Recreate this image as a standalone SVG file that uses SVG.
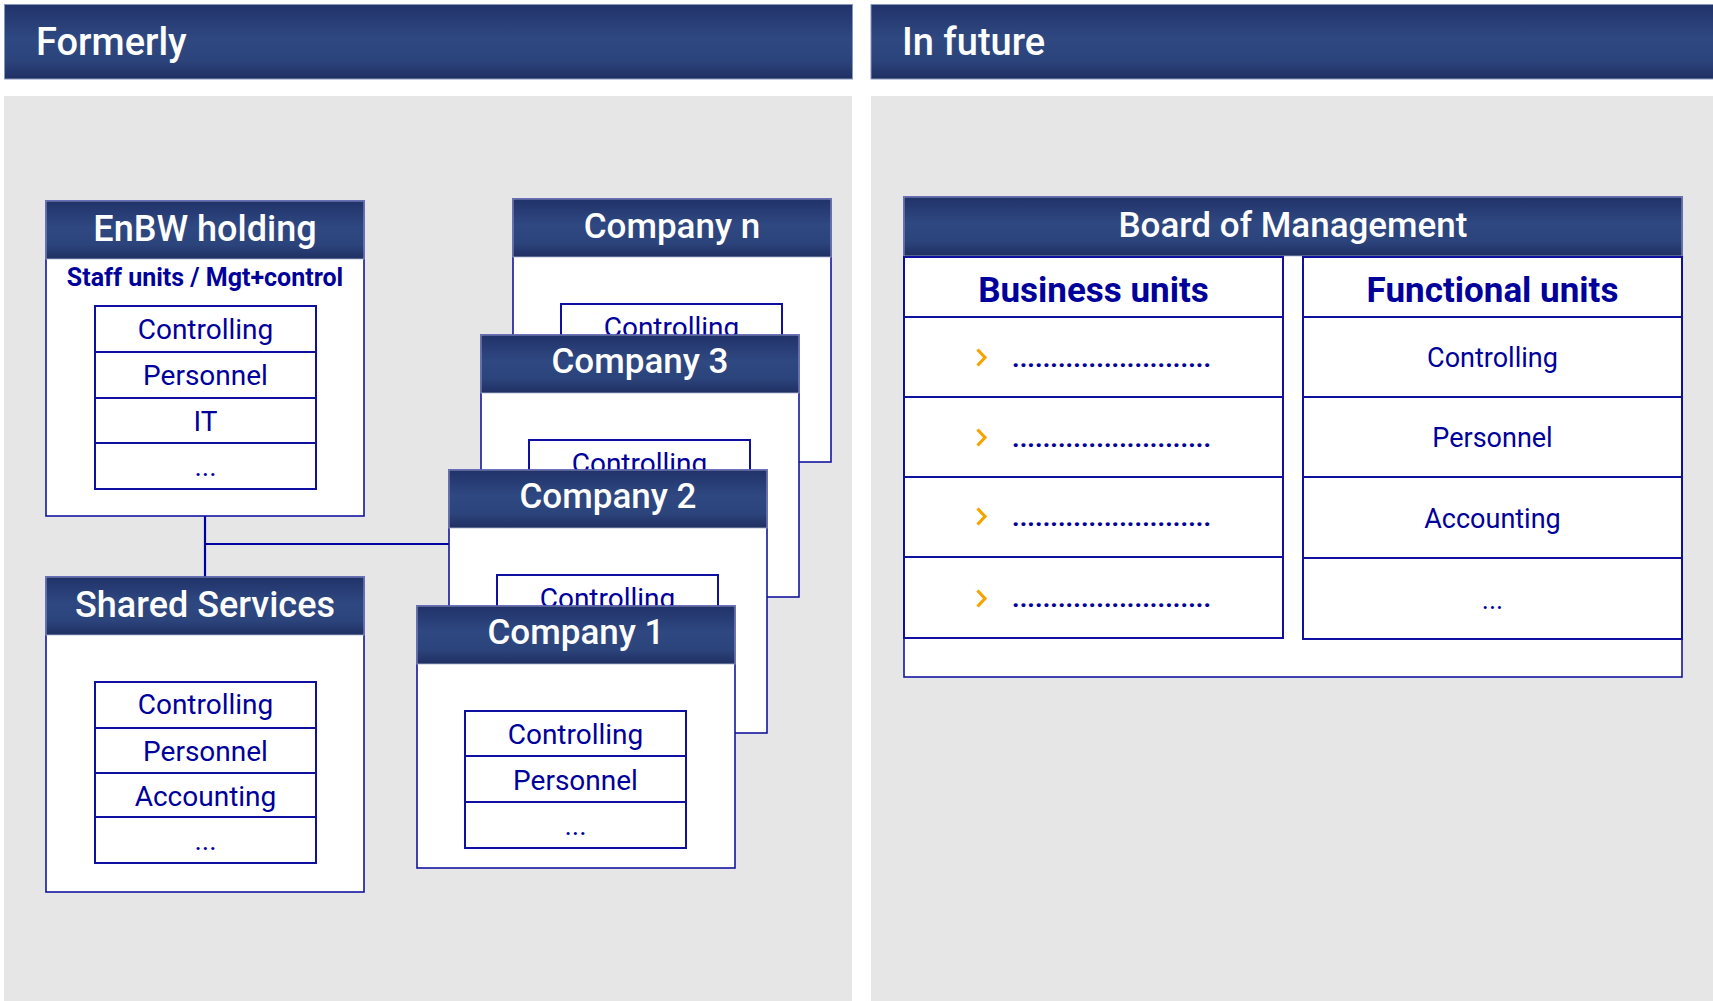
<svg xmlns="http://www.w3.org/2000/svg" width="1713" height="1001" viewBox="0 0 1713 1001">
  <defs>
    <linearGradient id="hdr" x1="0" y1="0" x2="0" y2="1">
      <stop offset="0" stop-color="#21326a"/>
      <stop offset="0.45" stop-color="#2f4881"/>
      <stop offset="0.75" stop-color="#2c447c"/>
      <stop offset="1" stop-color="#1f2f62"/>
    </linearGradient>
    <clipPath id="clipN"><rect x="500" y="190" width="400" height="145"/></clipPath>
    <clipPath id="clip3"><rect x="470" y="325" width="400" height="145"/></clipPath>
    <clipPath id="clip2"><rect x="440" y="460" width="400" height="146"/></clipPath>
    <style>
      .bar { fill: url(#hdr); stroke: #8796bb; stroke-width: 1; }
      .hd { fill: url(#hdr); stroke: #aab4d0; stroke-width: 0.8; }
      .panel { fill: #e6e6e6; }
      .box { fill: #ffffff; stroke: #1414a0; stroke-width: 1.6; }
      .cell { fill: #ffffff; stroke: #1010a0; stroke-width: 2; }
      .wt { font-family: Roboto, "Liberation Sans", sans-serif; fill: #ffffff; font-weight: 500; text-anchor: middle; }
      .bt { font-family: Roboto, "Liberation Sans", sans-serif; fill: #00009a; text-anchor: middle; }
      .title { font-family: Roboto, "Liberation Sans", sans-serif; fill: #ffffff; font-weight: 500; font-size: 38px; }
      .h35 { font-size: 35px; }
      .h36 { font-size: 36px; }
      .it { font-size: 28px; }
      .ft { font-size: 27px; }
      .col { font-size: 35px; font-weight: bold; }
      .dots { font-family: Roboto, "Liberation Sans", sans-serif; fill: #00009a; font-size: 26px; font-weight: bold; }
      .chev { fill: none; stroke: #f5a300; stroke-width: 3.2; }
      .conn { fill: none; stroke: #0000a0; stroke-width: 2.2; }
    </style>
  </defs>

  <rect x="0" y="0" width="1713" height="1001" fill="#ffffff"/>

  <!-- panels and titles -->
  <g id="panel-formerly">
    <rect class="bar" x="4.5" y="4.5" width="848" height="74.5"/>
    <text class="title" x="36" y="55">Formerly</text>
    <rect class="panel" x="4" y="96" width="848" height="905"/>
  </g>
  <g id="panel-future">
    <rect class="bar" x="871" y="4.5" width="843" height="74.5"/>
    <text class="title" x="902" y="55">In future</text>
    <rect class="panel" x="871" y="96" width="842" height="905"/>
  </g>

  <!-- connectors -->
  <g id="connectors">
    <path class="conn" d="M205,516 V577"/>
    <path class="conn" d="M205,544 H449"/>
  </g>

  <!-- EnBW holding -->
  <g id="enbw-holding">
    <rect class="box" x="46" y="201" width="318" height="315"/>
    <rect class="hd" x="46" y="201" width="318" height="58"/>
    <text class="wt h36" x="205" y="241">EnBW holding</text>
    <text class="bt" x="205" y="286" font-size="25" font-weight="bold">Staff units / Mgt+control</text>
    <rect class="cell" x="95" y="306" width="221" height="46"/>
    <rect class="cell" x="95" y="352" width="221" height="46"/>
    <rect class="cell" x="95" y="398" width="221" height="45"/>
    <rect class="cell" x="95" y="443" width="221" height="46"/>
    <text class="bt it" x="205.5" y="339">Controlling</text>
    <text class="bt it" x="205.5" y="385">Personnel</text>
    <text class="bt it" x="205.5" y="431">IT</text>
    <text class="bt it" x="205.5" y="476">...</text>
  </g>

  <!-- Shared Services -->
  <g id="shared-services">
    <rect class="box" x="46" y="577" width="318" height="315"/>
    <rect class="hd" x="46" y="577" width="318" height="58"/>
    <text class="wt h36" x="205" y="617">Shared Services</text>
    <rect class="cell" x="95" y="682" width="221" height="46"/>
    <rect class="cell" x="95" y="728" width="221" height="45"/>
    <rect class="cell" x="95" y="773" width="221" height="44"/>
    <rect class="cell" x="95" y="817" width="221" height="46"/>
    <text class="bt it" x="205.5" y="714">Controlling</text>
    <text class="bt it" x="205.5" y="761">Personnel</text>
    <text class="bt it" x="205.5" y="806">Accounting</text>
    <text class="bt it" x="205.5" y="850">...</text>
  </g>

  <!-- Company n -->
  <g id="company-n">
    <rect class="box" x="513" y="199" width="318" height="263"/>
    <rect class="hd" x="513" y="199" width="318" height="58"/>
    <text class="wt h35" x="672" y="238">Company n</text>
    <g clip-path="url(#clipN)">
      <rect class="cell" x="561" y="304" width="221" height="46"/>
      <text class="bt it" x="671.5" y="337">Controlling</text>
    </g>
  </g>

  <!-- Company 3 -->
  <g id="company-3">
    <rect class="box" x="481" y="335" width="318" height="262"/>
    <rect class="hd" x="481" y="335" width="318" height="58"/>
    <text class="wt h35" x="640" y="373">Company 3</text>
    <g clip-path="url(#clip3)">
      <rect class="cell" x="529" y="440" width="221" height="46"/>
      <text class="bt it" x="639.5" y="473">Controlling</text>
    </g>
  </g>

  <!-- Company 2 -->
  <g id="company-2">
    <rect class="box" x="449" y="470" width="318" height="263"/>
    <rect class="hd" x="449" y="470" width="318" height="58"/>
    <text class="wt h35" x="608" y="508">Company 2</text>
    <g clip-path="url(#clip2)">
      <rect class="cell" x="497" y="575" width="221" height="46"/>
      <text class="bt it" x="607.5" y="608">Controlling</text>
    </g>
  </g>

  <!-- Company 1 -->
  <g id="company-1">
    <rect class="box" x="417" y="606" width="318" height="262"/>
    <rect class="hd" x="417" y="606" width="318" height="58"/>
    <text class="wt h35" x="576" y="644">Company 1</text>
    <rect class="cell" x="465" y="711" width="221" height="45"/>
    <rect class="cell" x="465" y="756" width="221" height="46"/>
    <rect class="cell" x="465" y="802" width="221" height="46"/>
    <text class="bt it" x="575.5" y="744">Controlling</text>
    <text class="bt it" x="575.5" y="790">Personnel</text>
    <text class="bt it" x="575.5" y="835">...</text>
  </g>

  <!-- Board of Management -->
  <g id="board-of-management">
    <rect class="box" x="904" y="197" width="778" height="480"/>
    <rect class="hd" x="904" y="197" width="778" height="59"/>
    <text class="wt h35" x="1293" y="237">Board of Management</text>
  </g>

  <!-- Business units -->
  <g id="business-units">
    <rect class="cell" x="904" y="257" width="379" height="60"/>
    <text class="bt col" x="1093.5" y="302">Business units</text>
    <rect class="cell" x="904" y="317" width="379" height="80"/>
    <rect class="cell" x="904" y="397" width="379" height="80"/>
    <rect class="cell" x="904" y="477" width="379" height="80"/>
    <rect class="cell" x="904" y="557" width="379" height="81"/>
    <path class="chev" d="M977.5,349.5 L985,357.5 L977.5,365.5"/>
    <path class="chev" d="M977.5,429.5 L985,437.5 L977.5,445.5"/>
    <path class="chev" d="M977.5,508.5 L985,516.5 L977.5,524.5"/>
    <path class="chev" d="M977.5,590.5 L985,598.5 L977.5,606.5"/>
    <text class="dots" x="1012" y="367" textLength="199" lengthAdjust="spacing">..........................</text>
    <text class="dots" x="1012" y="447" textLength="199" lengthAdjust="spacing">..........................</text>
    <text class="dots" x="1012" y="526" textLength="199" lengthAdjust="spacing">..........................</text>
    <text class="dots" x="1012" y="607" textLength="199" lengthAdjust="spacing">..........................</text>
  </g>

  <!-- Functional units -->
  <g id="functional-units">
    <rect class="cell" x="1303" y="257" width="379" height="60"/>
    <text class="bt col" x="1492.5" y="302">Functional units</text>
    <rect class="cell" x="1303" y="317" width="379" height="80"/>
    <rect class="cell" x="1303" y="397" width="379" height="80"/>
    <rect class="cell" x="1303" y="477" width="379" height="81"/>
    <rect class="cell" x="1303" y="558" width="379" height="81"/>
    <text class="bt ft" x="1492.5" y="367">Controlling</text>
    <text class="bt ft" x="1492.5" y="447">Personnel</text>
    <text class="bt ft" x="1492.5" y="528">Accounting</text>
    <text class="bt ft" x="1492.5" y="609">...</text>
  </g>
</svg>
